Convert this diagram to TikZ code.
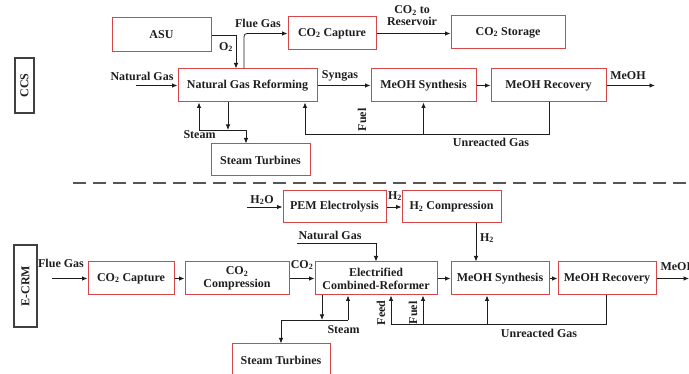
\documentclass[tikz,border=0pt]{standalone}
\usepackage{fontspec}
\setmainfont{Liberation Serif}
\usepackage{xcolor}
\usepackage{tikz}
\usetikzlibrary{arrows.meta,positioning}

\definecolor{boxred}{RGB}{214,70,72}
\definecolor{ink}{RGB}{30,30,30}
\newcommand{\cotwo}{CO\textsubscript{2}}
\newcommand{\htwo}{H\textsubscript{2}}

\begin{document}
\begin{tikzpicture}[x=1pt,y=-1pt,
  every node/.style={font=\fontsize{12}{14}\selectfont\bfseries, text=ink},
  unit/.style={draw=boxred, line width=1pt, minimum height=33, inner sep=1pt, align=center},
  tag/.style={draw=ink!85, line width=1.2pt, inner sep=1pt, rotate=90},
  flow/.style={draw=ink, line width=0.8pt, -{Latex[length=5.5pt,width=4.5pt]}}]
\useasboundingbox (0,0) rectangle (689,374);

% CCS route
\node[tag, minimum width=55, minimum height=19] (ccs) at (24.5,85.5) {CCS};
\node[unit, minimum width=99, minimum height=34] (asu) at (161.5,35) {ASU};
\node[unit, minimum width=88] (capA) at (332,33.5) {\cotwo\ Capture};
\node[unit, minimum width=114] (stor) at (508,32.5) {\cotwo\ Storage};
\node[unit, minimum width=139] (ngr) at (247.5,85.5) {Natural Gas Reforming};
\node[unit, minimum width=105] (synA) at (423.5,85.5) {MeOH Synthesis};
\node[unit, minimum width=115] (recA) at (548.5,85.5) {MeOH Recovery};
\node[unit, minimum width=99, minimum height=32] (stA) at (260.5,160) {Steam Turbines};

\coordinate (ngA) at (136,85.5);
\coordinate (meohA) at (655,85.5);
\coordinate (stlA) at (199,130);
\coordinate (strA) at (246,130);
\coordinate (sjA) at (228,130);
\coordinate (ugA) at (549,134);

\draw[flow] (asu.east) -| ([xshift=-11.5]ngr.north);
\draw[flow, rounded corners=3] ([xshift=-3.5]ngr.north) |- (capA.west);
\draw[flow] (capA.east) -- (capA.east -| stor.west);
\draw[flow] (ngA) -- (ngr.west);
\draw[flow] (ngr.east) -- (synA.west);
\draw[flow] (synA.east) -- (recA.west);
\draw[flow] (recA.east) -- (meohA);
\draw[flow] (ngr.south -| sjA) -- (sjA);
\draw[flow] (stlA) -- (stlA |- ngr.south);
\draw[flow] (stlA) -- (strA) -- (strA |- stA.north);
\draw[flow] (recA.south -| ugA) -- (ugA) -| ([xshift=57.5]ngr.south);
\draw[flow] (synA.south |- ugA) -- (synA.south);

\node (o2) at (226,47) {O\textsubscript{2}};
\node (flueA) at (258,23) {Flue Gas};
\node[align=center, inner sep=0pt] (resv) at (412,16) {\cotwo\ to\\[-2pt]Reservoir};
\node (ngtA) at (142,76) {Natural Gas};
\node (syng) at (340,76) {Syngas};
\node (meohtA) at (628,76) {MeOH};
\node (steamA) at (199.5,135) {Steam};
\node[rotate=90] (fuelA) at (362,120) {Fuel};
\node (ugtA) at (491,142) {Unreacted Gas};

% divider
\coordinate (divl) at (73,183);
\coordinate (divr) at (689,183);
\draw[ink!75, line width=1.8pt, dash pattern=on 13pt off 7pt] (divl) -- (divr);

% E-CRM route
\node[tag, minimum width=82, minimum height=23] (ecrm) at (25.5,286) {E-CRM};
\node[unit, minimum width=103, minimum height=32] (pem) at (334.5,207) {PEM Electrolysis};
\node[unit, minimum width=99, minimum height=32] (h2c) at (451.5,207) {\htwo\ Compression};
\node[unit, minimum width=86] (capB) at (131,278.5) {\cotwo\ Capture};
\node[unit, minimum width=104] (comp) at (237,278.5) {\cotwo\\[-1pt]Compression};
\node[unit, minimum width=122] (ecr) at (376,278.5) {Electrified\\[-1pt]Combined-Reformer};
\node[unit, minimum width=98] (synB) at (500,278.5) {MeOH Synthesis};
\node[unit, minimum width=98] (recB) at (607,278.5) {MeOH Recovery};
\node[unit, minimum width=98, minimum height=32] (stB) at (281,360) {Steam Turbines};

\coordinate (h2oin) at (247,207);
\coordinate (ngB) at (297,243);
\coordinate (fgB) at (52,278.5);
\coordinate (meohB) at (689,278.5);
\coordinate (sjB) at (322,320);
\coordinate (stlB) at (281,320);
\coordinate (strB) at (348,320);
\coordinate (ugB) at (606,324);

\draw[flow] (h2oin) -- (pem.west);
\draw[flow] (pem.east) -- (h2c.west);
\draw[flow] ([xshift=24.5]h2c.south) -- ([xshift=24.5]h2c.south |- synB.north);
\draw[flow] (ngB) -| (ecr.north);
\draw[flow] (fgB) -- (capB.west);
\draw[flow] (capB.east) -- (comp.west);
\draw[flow] (comp.east) -- (ecr.west);
\draw[flow] (ecr.east) -- (synB.west);
\draw[flow] (synB.east) -- (recB.west);
\draw[flow] (recB.east) -- (meohB);
\draw[flow] (ecr.south -| sjB) -- (sjB);
\draw[flow] (strB) -- (strB |- ecr.south);
\draw[flow] (strB) -- (stlB) -- (stB.north);
\draw[flow] (recB.south -| ugB) -- (ugB) -| ([xshift=15]ecr.south);
\draw[flow] ([xshift=47]ecr.south |- ugB) -- ([xshift=47]ecr.south);
\draw[flow] ([xshift=-13]synB.south |- ugB) -- ([xshift=-13]synB.south);

\node (h2o) at (262,200) {H\textsubscript{2}O};
\node (h2a) at (395,196) {\htwo};
\node (h2b) at (487,238) {\htwo};
\node (ngtB) at (330,235) {Natural Gas};
\node (flueB) at (61,263) {Flue Gas};
\node (co2t) at (302,265) {\cotwo};
\node[anchor=west] (meohtB) at (657,267) {MeOH};
\node (steamB) at (343.5,330) {Steam};
\node[rotate=90] (feed) at (381,313) {Feed};
\node[rotate=90] (fuelB) at (413,313) {Fuel};
\node (ugtB) at (539,333) {Unreacted Gas};
\end{tikzpicture}
\end{document}
